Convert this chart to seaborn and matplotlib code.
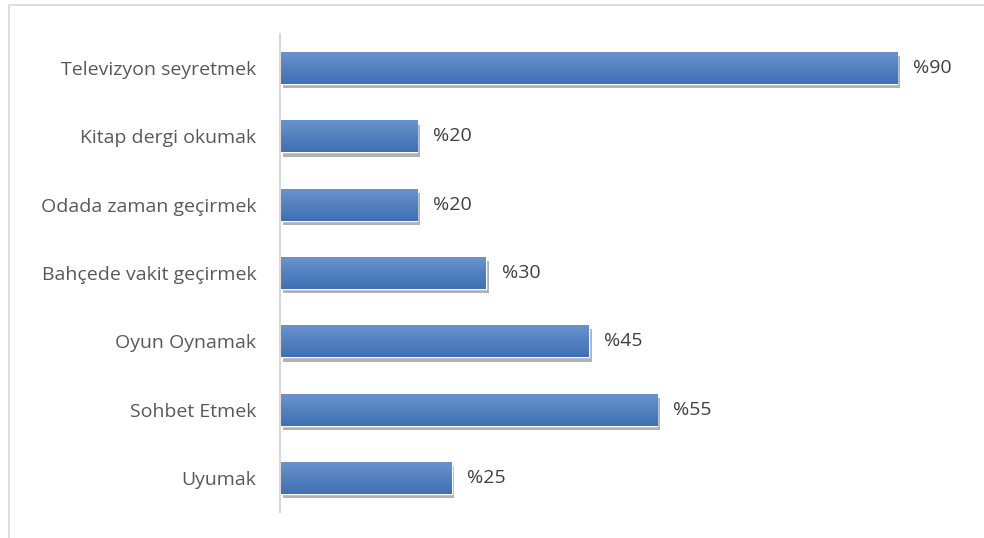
import numpy as np
import pandas as pd
import matplotlib
matplotlib.use("Agg")
import matplotlib.pyplot as plt
import matplotlib.patheffects as pe
from matplotlib.lines import Line2D
import seaborn as sns

# data
activities = ["Televizyon seyretmek", "Kitap dergi okumak", "Odada zaman geçirmek",
              "Bahçede vakit geçirmek", "Oyun Oynamak", "Sohbet Etmek", "Uyumak"]
percent = [90, 20, 20, 30, 45, 55, 25]

df = pd.DataFrame({"activity": activities, "percent": percent})

sns.set_theme(style="white")
plt.rcParams["font.family"] = ["Open Sans", "DejaVu Sans"]

fig = plt.figure(figsize=(9.84, 5.38), dpi=100)
ax = fig.add_axes([0.2846, 0.0483, 0.6971, 0.8885])

sns.barplot(data=df, x="percent", y="activity", color="#4a7dbd",
            width=0.47, orient="h", ax=ax, saturation=1)

# gradient fill + shadow on each bar
grad = np.linspace(0, 1, 64).reshape(-1, 1)
cmap = matplotlib.colors.LinearSegmentedColormap.from_list("bar", ["#6b94cd", "#3d70b4"])
for bar in ax.patches:
    x0, y0 = bar.get_x(), bar.get_y()
    w, h = bar.get_width(), bar.get_height()
    bar.set_path_effects([pe.SimplePatchShadow(offset=(2, -3), shadow_rgbFace="#7f7f7f", alpha=0.6),
                          pe.Normal()])
    img = ax.imshow(grad, cmap=cmap, aspect="auto", extent=[x0, x0 + w, y0 + h, y0],
                    zorder=bar.get_zorder() + 0.1, interpolation="bilinear")
    img.set_clip_path(bar)

for i, v in enumerate(percent):
    ax.text(v + 2.3, i, "%" + str(v), va="center", ha="left", fontsize=14, color="#404040")

ax.set_xlim(0, 100)
ax.set_ylim(6.5, -0.5)
ax.set_xlabel("")
ax.set_ylabel("")
ax.set_xticks([])
ax.tick_params(axis="y", length=0, pad=17, labelsize=14, labelcolor="#595959")
for s in ["top", "right", "bottom"]:
    ax.spines[s].set_visible(False)
ax.spines["left"].set_color("#d9d9d9")
ax.spines["left"].set_linewidth(1.5)

# chart-area border (top and left edges visible)
fig.add_artist(Line2D([8.5 / 984, 1], [1 - 4.5 / 538, 1 - 4.5 / 538], color="#d9d9d9", lw=1.2))
fig.add_artist(Line2D([8.5 / 984, 8.5 / 984], [0, 1 - 4.5 / 538], color="#d9d9d9", lw=1.2))

fig.savefig("out.png", dpi=100)
